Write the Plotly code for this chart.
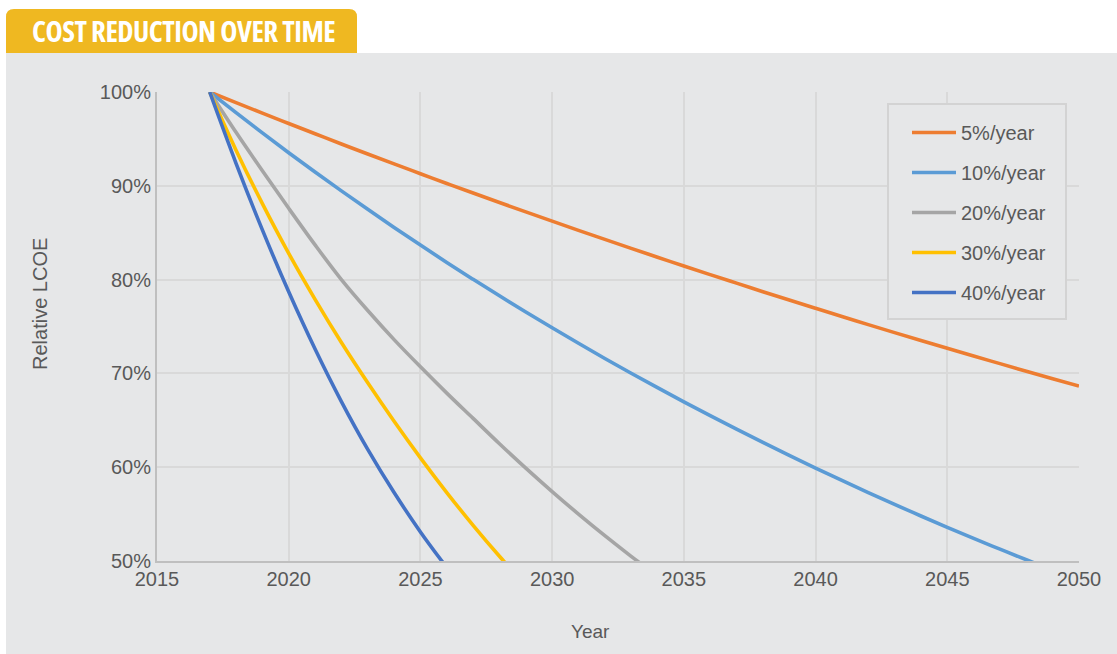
import plotly.graph_objects as go

W, H = 1117, 654
L, R, T, B = 157, 1079, 92, 561  # plot area pixel box

years = list(range(2017, 2051))
series_names = ["5%/year", "10%/year", "20%/year", "30%/year", "40%/year"]
series_colors = ["#ED7D31", "#5B9BD5", "#A5A5A5", "#FFC000", "#4472C4"]

rate_05 = [100.0, 98.87, 97.75, 96.64, 95.55, 94.46, 93.39, 92.33, 91.29, 90.25,
           89.23, 88.22, 87.22, 86.23, 85.25, 84.29, 83.33, 82.39, 81.45, 80.53,
           79.62, 78.71, 77.82, 76.94, 76.07, 75.20, 74.35, 73.51, 72.68, 71.85,
           71.04, 70.23, 69.44, 68.65]
rate_10 = [100.0, 97.80, 95.64, 93.53, 91.47, 89.46, 87.49, 85.56, 83.68, 81.83,
           80.03, 78.27, 76.54, 74.86, 73.21, 71.59, 70.02, 68.48, 66.97, 65.49,
           64.05, 62.64, 61.26, 59.91, 58.59, 57.30, 56.03, 54.80, 53.59, 52.41,
           51.26, 50.13, 49.02]
rate_20 = [100.0, 95.7, 91.6, 87.6, 83.7, 80.0, 76.7, 73.6, 70.7, 67.9, 65.2, 62.5,
           59.9, 57.4, 55.0, 52.7, 50.5, 48.4]
rate_30 = [100.0, 93.8, 88.1, 82.8, 77.9, 73.3, 69.0, 64.9, 61.0, 57.3, 53.8, 50.5, 47.4]
rate_40 = [100.0, 92.4, 85.3, 78.7, 72.6, 67.0, 61.9, 57.3, 53.1, 49.3]
series_values = [rate_05, rate_10, rate_20, rate_30, rate_40]

x_ticks = [2015, 2020, 2025, 2030, 2035, 2040, 2045, 2050]
y_ticks = [50, 60, 70, 80, 90, 100]
y_tick_labels = ["50%", "60%", "70%", "80%", "90%", "100%"]

title_text = "COST REDUCTION OVER TIME"
x_title = "Year"
y_title = "Relative LCOE"


def px(x):
    return (x - L) / (R - L)


def py(y):
    return (B - y) / (B - T)


fig = go.Figure()
for name, color, vals in zip(series_names, series_colors, series_values):
    fig.add_trace(go.Scatter(
        x=years[:len(vals)], y=vals, name=name, mode="lines",
        line=dict(color=color, width=3.6, shape="spline", smoothing=1.0),
        legendgroup=name,
    ))

panel = "#E6E7E8"
text_col = "#595959"

shapes = [
    dict(type="rect", xref="paper", yref="paper", layer="below",
         x0=px(6), x1=px(1125), y0=py(53), y1=py(660),
         fillcolor=panel, line=dict(width=0)),
    # legend frame
    dict(type="rect", xref="paper", yref="paper", layer="above",
         x0=px(888), x1=px(1066), y0=py(319), y1=py(104),
         fillcolor=panel, line=dict(width=2, color="#D3D3D3")),
]
# banner with rounded top corners
bx0, bx1, by0, by1, r = px(6), px(357), py(53), py(9), 8
rx = r / (R - L)
ry = r / (B - T)
path = (f"M {bx0},{by0} L {bx0},{by1 - ry} Q {bx0},{by1} {bx0 + rx},{by1} "
        f"L {bx1 - rx},{by1} Q {bx1},{by1} {bx1},{by1 - ry} L {bx1},{by0} Z")
shapes.append(dict(type="path", xref="paper", yref="paper", path=path,
                   fillcolor="#EFB821", line=dict(width=0), layer="below"))

annotations = [
    dict(text=f'<span style="font-stretch:75%;letter-spacing:-0.5px">{title_text}</span>',
         xref="paper", yref="paper",
         x=px(30), y=py(31), xanchor="left", yanchor="middle", showarrow=False,
         font=dict(family="Open Sans", size=29, color="white", weight=700)),
    dict(text=y_title, xref="paper", yref="paper", x=px(40), y=py(304),
         xanchor="center", yanchor="middle", textangle=-90, showarrow=False,
         font=dict(size=20, color=text_col)),
    dict(text=x_title, xref="paper", yref="paper", x=px(590), y=py(631),
         xanchor="center", yanchor="middle", showarrow=False,
         font=dict(size=19, color=text_col)),
]

fig.update_layout(
    width=W, height=H,
    margin=dict(l=L, r=W - R, t=T, b=H - B, autoexpand=False),
    paper_bgcolor="white", plot_bgcolor="rgba(0,0,0,0)",
    font=dict(family="Liberation Sans", color=text_col, size=20),
    shapes=shapes, annotations=annotations,
    showlegend=True,
    legend=dict(
        x=px(907), y=py(113), xanchor="left", yanchor="top",
        bgcolor="rgba(0,0,0,0)", borderwidth=0,
        font=dict(size=20, color=text_col), tracegroupgap=11,
        itemwidth=44,
    ),
    xaxis=dict(
        range=[2015, 2050], tickvals=x_ticks, ticktext=[str(v) for v in x_ticks],
        showgrid=True, gridcolor="#D9D9D9", gridwidth=2,
        showline=True, linecolor="#BFBFBF", linewidth=2, zeroline=False,
        ticks="", ticklabelstandoff=-1,
        tickfont=dict(size=20),
    ),
    yaxis=dict(
        range=[50, 100], tickvals=y_ticks, ticktext=y_tick_labels,
        showgrid=True, gridcolor="#D9D9D9", gridwidth=2,
        showline=True, linecolor="#BFBFBF", linewidth=2, zeroline=False,
        ticks="", ticklabelstandoff=0,
        tickfont=dict(size=20),
    ),
)

fig.write_html("out.html")
